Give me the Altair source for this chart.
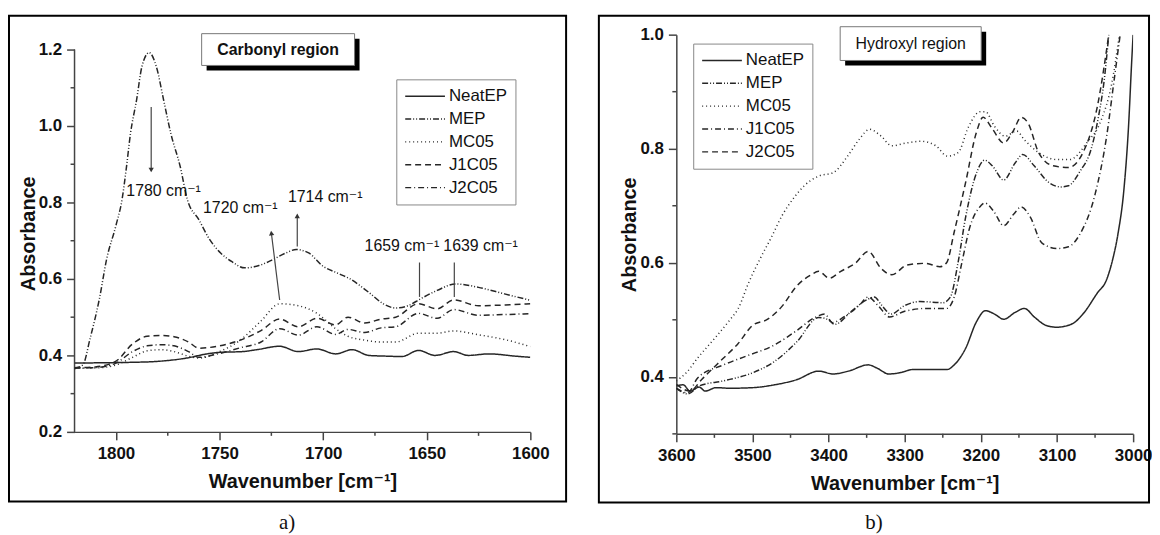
import altair as alt
import pandas as pd

FONT = "Liberation Sans, DejaVu Sans, sans-serif"
SERIES = ["NeatEP", "MEP", "MC05", "J1C05", "J2C05"]

# ---------------- Carbonyl region (panel a) ----------------
neat_c_w = [1820, 1803, 1792, 1781, 1766, 1756, 1750, 1739, 1732, 1721, 1712, 1703, 1694, 1686, 1678, 1669, 1662, 1654, 1646, 1637, 1630, 1620, 1607, 1600]
neat_c_a = [0.380, 0.381, 0.382, 0.384, 0.393, 0.404, 0.408, 0.410, 0.415, 0.424, 0.410, 0.417, 0.404, 0.415, 0.400, 0.398, 0.397, 0.413, 0.400, 0.410, 0.400, 0.404, 0.398, 0.395]

mep_c_w = [1820, 1816, 1812.5, 1808, 1804.5, 1800, 1797, 1795, 1793, 1790, 1787.5, 1784, 1780.5, 1777, 1773.5, 1769, 1765.5, 1760, 1755, 1749.5, 1744, 1738, 1731, 1724.5, 1718, 1713, 1707, 1700, 1693, 1687, 1678, 1671, 1665, 1659, 1653, 1645, 1636, 1625, 1612.5, 1600]
mep_c_a = [0.366, 0.375, 0.444, 0.548, 0.652, 0.740, 0.810, 0.890, 0.980, 1.070, 1.155, 1.192, 1.155, 1.068, 0.980, 0.894, 0.807, 0.755, 0.705, 0.668, 0.645, 0.629, 0.635, 0.650, 0.668, 0.677, 0.668, 0.633, 0.615, 0.600, 0.565, 0.535, 0.524, 0.530, 0.548, 0.570, 0.587, 0.578, 0.561, 0.544]

mix_c_w = [1820, 1810, 1800, 1792, 1785, 1778, 1772, 1765, 1760, 1750, 1740, 1730, 1721, 1712, 1703, 1694, 1688, 1680, 1672, 1665, 1654, 1645, 1637, 1625, 1612, 1600]
mc05_c_a = [0.366, 0.367, 0.375, 0.395, 0.412, 0.415, 0.410, 0.398, 0.393, 0.410, 0.440, 0.490, 0.535, 0.530, 0.510, 0.470, 0.450, 0.440, 0.435, 0.435, 0.458, 0.458, 0.464, 0.454, 0.441, 0.423]
j1c05_c_a = [0.368, 0.370, 0.385, 0.430, 0.450, 0.452, 0.449, 0.435, 0.419, 0.425, 0.440, 0.465, 0.495, 0.475, 0.497, 0.480, 0.500, 0.485, 0.495, 0.500, 0.535, 0.522, 0.545, 0.530, 0.532, 0.535]
j2c05_c_a = [0.367, 0.368, 0.380, 0.410, 0.425, 0.428, 0.425, 0.410, 0.395, 0.405, 0.420, 0.435, 0.470, 0.453, 0.475, 0.455, 0.468, 0.460, 0.472, 0.475, 0.510, 0.497, 0.520, 0.505, 0.507, 0.509]

# annotations (panel a)
arrow_w1 = [1783, 1721, 1712.5, 1653.5, 1636.7]
arrow_a1 = [1.05, 0.545, 0.685, 0.553, 0.553]
arrow_w2 = [1783, 1725, 1712.5, 1653.5, 1636.7]
arrow_a2 = [0.885, 0.72, 0.765, 0.643, 0.643]
head_w = [1783, 1725, 1712.5]
head_a = [0.885, 0.72, 0.765]
head_ang = [180, 353, 0]
lab_c_text = ["1780 cm\u207b\u00b9", "1720 cm\u207b\u00b9", "1714 cm\u207b\u00b9", "1659 cm\u207b\u00b9", "1639 cm\u207b\u00b9"]
lab_c_w = [1777, 1740, 1699, 1662, 1624]
lab_c_a = [0.830, 0.785, 0.815, 0.685, 0.685]

# ---------------- Hydroxyl region (panel b) ----------------
neat_h_w = [3600, 3591, 3582, 3570, 3562, 3548, 3529, 3500, 3471, 3442, 3413, 3394, 3374, 3348, 3336, 3321, 3307, 3288, 3264, 3244, 3235, 3220, 3206, 3194, 3182, 3170, 3155, 3143, 3129, 3114, 3100, 3080, 3066, 3047, 3035, 3027, 3020, 3012, 3006, 3002, 3000]
neat_h_a = [0.384, 0.386, 0.375, 0.382, 0.375, 0.381, 0.380, 0.381, 0.386, 0.395, 0.410, 0.405, 0.410, 0.421, 0.415, 0.405, 0.407, 0.413, 0.413, 0.413, 0.421, 0.450, 0.496, 0.516, 0.510, 0.501, 0.513, 0.520, 0.504, 0.490, 0.487, 0.493, 0.510, 0.547, 0.570, 0.605, 0.650, 0.730, 0.840, 0.950, 1.000]

mep_h_w = [3600, 3585, 3570, 3538, 3500, 3471, 3442, 3413, 3400, 3392, 3370, 3350, 3340, 3330, 3318, 3300, 3280, 3250, 3240, 3230, 3220, 3205, 3195, 3185, 3170, 3155, 3145, 3130, 3110, 3095, 3085, 3070, 3055, 3045, 3038, 3032]
mep_h_a = [0.380, 0.370, 0.384, 0.393, 0.407, 0.427, 0.461, 0.504, 0.500, 0.492, 0.515, 0.535, 0.540, 0.525, 0.510, 0.525, 0.532, 0.530, 0.540, 0.600, 0.680, 0.760, 0.780, 0.770, 0.745, 0.775, 0.790, 0.770, 0.740, 0.733, 0.735, 0.760, 0.800, 0.860, 0.920, 1.000]

mc05_h_w = [3600, 3587, 3572, 3548, 3529, 3519, 3505, 3490, 3475, 3461, 3445, 3432, 3413, 3394, 3375, 3360, 3346, 3331, 3317, 3298, 3278, 3259, 3244, 3230, 3216, 3201, 3194, 3182, 3168, 3153, 3143, 3124, 3100, 3083, 3061, 3042, 3028, 3018]
mc05_h_a = [0.393, 0.407, 0.433, 0.470, 0.501, 0.519, 0.565, 0.607, 0.645, 0.683, 0.715, 0.735, 0.752, 0.758, 0.787, 0.816, 0.834, 0.822, 0.805, 0.810, 0.813, 0.805, 0.787, 0.793, 0.839, 0.865, 0.865, 0.839, 0.822, 0.831, 0.816, 0.793, 0.781, 0.781, 0.810, 0.850, 0.915, 1.000]

j1c05_h_w = [3600, 3585, 3572, 3538, 3509, 3471, 3442, 3418, 3405, 3395, 3380, 3360, 3348, 3335, 3320, 3300, 3270, 3245, 3235, 3225, 3215, 3200, 3195, 3183, 3170, 3157, 3147, 3135, 3120, 3100, 3085, 3070, 3050, 3035, 3025, 3017]
j1c05_h_a = [0.380, 0.372, 0.398, 0.421, 0.436, 0.456, 0.481, 0.504, 0.510, 0.495, 0.505, 0.525, 0.540, 0.525, 0.505, 0.515, 0.520, 0.520, 0.540, 0.600, 0.660, 0.700, 0.705, 0.690, 0.665, 0.685, 0.698, 0.680, 0.635, 0.625, 0.628, 0.650, 0.720, 0.820, 0.920, 1.000]

j2c05_h_w = [3600, 3582, 3567, 3558, 3538, 3519, 3500, 3480, 3461, 3442, 3423, 3413, 3399, 3384, 3365, 3348, 3331, 3317, 3297, 3273, 3254, 3245, 3235, 3220, 3206, 3197, 3185, 3170, 3158, 3147, 3138, 3124, 3105, 3085, 3066, 3047, 3032]
j2c05_h_a = [0.387, 0.375, 0.395, 0.407, 0.433, 0.458, 0.490, 0.501, 0.524, 0.559, 0.579, 0.585, 0.573, 0.585, 0.599, 0.620, 0.590, 0.579, 0.596, 0.599, 0.593, 0.600, 0.654, 0.741, 0.828, 0.855, 0.835, 0.810, 0.830, 0.855, 0.845, 0.793, 0.770, 0.767, 0.793, 0.874, 1.000]

# tick values (major labelled, minor unlabelled)
x_major_c = [1600, 1650, 1700, 1750, 1800]
x_minor_c = [1625, 1675, 1725, 1775]
y_major_c = [0.2, 0.4, 0.6, 0.8, 1.0, 1.2]
y_minor_c = [0.3, 0.5, 0.7, 0.9, 1.1]
x_major_h = [3000, 3100, 3200, 3300, 3400, 3500, 3600]
x_minor_h = [3050, 3150, 3250, 3350, 3450, 3550]
y_major_h = [0.4, 0.6, 0.8, 1.0]
y_minor_h = [0.3, 0.5, 0.7, 0.9]

DASH_C = [[1, 0], [6, 2, 1, 2, 1, 2], [1, 3], [6, 4], [6, 3, 1, 3]]
DASH_H = [[1, 0], [6, 2, 1, 2, 1, 2], [1, 3], [6, 3, 1, 3], [6, 4]]

LINE = "#262626"
AXC = "#444444"


def long_df(items):
    rows = []
    for name, ws, As in items:
        for w, a in zip(ws, As):
            rows.append({"series": name, "w": w, "A": a})
    return pd.DataFrame(rows)


df_c = long_df([
    ("NeatEP", neat_c_w, neat_c_a),
    ("MEP", mep_c_w, mep_c_a),
    ("MC05", mix_c_w, mc05_c_a),
    ("J1C05", mix_c_w, j1c05_c_a),
    ("J2C05", mix_c_w, j2c05_c_a),
])
df_h = long_df([
    ("NeatEP", neat_h_w, neat_h_a),
    ("MEP", mep_h_w, mep_h_a),
    ("MC05", mc05_h_w, mc05_h_a),
    ("J1C05", j1c05_h_w, j1c05_h_a),
    ("J2C05", j2c05_h_w, j2c05_h_a),
])

one = pd.DataFrame({"k": [0]})

W_C, H_C = 459, 400
W_H, H_H = 460, 402
Y_TOP_C = 0.2 + H_C / 385.0

LBL = dict(labelFont=FONT, labelFontSize=17, labelFontWeight="bold", labelColor="#111",
           titleFont=FONT, titleFontSize=20, titleFontWeight="bold", titleColor="#111",
           domainColor=AXC, tickColor=AXC, domainWidth=1.5, tickWidth=1.5, grid=False,
           labelFlush=False, labelOverlap=False, tickSize=8)


def xaxis(vals):
    return alt.Axis(values=vals, title="Wavenumber [cm\u207b\u00b9]", format="d",
                    labelPadding=6, titlePadding=10, **LBL)


def yaxis(vals, domain):
    return alt.Axis(values=vals, title="Absorbance", format=".1f",
                    labelPadding=5, titlePadding=0, domain=domain, **LBL)


x_c = alt.X("w:Q", scale=alt.Scale(domain=[1600, 1820], reverse=True, nice=False, zero=False), axis=xaxis(x_major_c))
y_c = alt.Y("A:Q", scale=alt.Scale(domain=[0.2, Y_TOP_C], nice=False, zero=False), axis=yaxis(y_major_c, False))
x_h = alt.X("w:Q", scale=alt.Scale(domain=[3000, 3600], reverse=True, nice=False, zero=False), axis=xaxis(x_major_h))
y_h = alt.Y("A:Q", scale=alt.Scale(domain=[0.3, 1.0], nice=False, zero=False), axis=yaxis(y_major_h, True))


def minor_ticks(xvals, yvals, x, y, h):
    tx = alt.Chart(pd.DataFrame({"w": xvals})).mark_rule(color=AXC, strokeWidth=1.5).encode(
        x=x, y=alt.value(h), y2=alt.value(h + 4))
    ty = alt.Chart(pd.DataFrame({"A": yvals})).mark_rule(color=AXC, strokeWidth=1.5).encode(
        y=y, x=alt.value(0), x2=alt.value(-4))
    return [tx, ty]


def legend(x, y):
    return alt.Legend(
        title=None, orient="none", legendX=x, legendY=y, symbolType="stroke",
        symbolSize=1600, symbolStrokeWidth=1.4, symbolStrokeColor=LINE,
        labelFont=FONT, labelFontSize=17, labelColor="#111", labelOffset=3,
        strokeColor="#888", fillColor="white", padding=8, rowPadding=5,
        clipHeight=18, direction="vertical",
    )


def lines(df, x, y, dash, leg):
    return alt.Chart(df).mark_line(strokeWidth=1.5, color=LINE, interpolate="monotone", clip=True).encode(
        x=x, y=y,
        strokeDash=alt.StrokeDash("series:N", scale=alt.Scale(domain=SERIES, range=dash), legend=leg),
        detail="series:N",
    )


def frame(x1, x2, y1, y2):
    return alt.Chart(one).mark_rect(filled=False, stroke="black", strokeWidth=2).encode(
        x=alt.value(x1), x2=alt.value(x2), y=alt.value(y1), y2=alt.value(y2))


def label_box(x1, x2, y1, y2, text, weight):
    shadow = alt.Chart(one).mark_rect(fill="black").encode(
        x=alt.value(x1 + 5), x2=alt.value(x2 + 5), y=alt.value(y1 + 5), y2=alt.value(y2 + 5))
    box = alt.Chart(one).mark_rect(fill="white", stroke="#777", strokeWidth=1).encode(
        x=alt.value(x1), x2=alt.value(x2), y=alt.value(y1), y2=alt.value(y2))
    txt = alt.Chart(one).mark_text(font=FONT, fontSize=16, fontWeight=weight, color="#111").encode(
        x=alt.value((x1 + x2) / 2), y=alt.value((y1 + y2) / 2), text=alt.value(text))
    return [shadow, box, txt]


def panel_letter(x, y, t):
    return alt.Chart(one).mark_text(font="Liberation Serif, DejaVu Serif, serif", fontSize=21, color="#111").encode(
        x=alt.value(x), y=alt.value(y), text=alt.value(t))


# ---- panel a layers
ann_rules = pd.DataFrame({"w": arrow_w1, "A": arrow_a1, "w2": arrow_w2, "A2": arrow_a2})
ann_heads = pd.DataFrame({"w": head_w, "A": head_a, "ang": head_ang})
ann_text = pd.DataFrame({"w": lab_c_w, "A": lab_c_a, "t": lab_c_text})

rules_a = alt.Chart(ann_rules).mark_rule(color="#444", strokeWidth=1.2).encode(
    x=x_c, x2="w2:Q", y=y_c, y2="A2:Q")
heads_a = alt.Chart(ann_heads).mark_point(shape="triangle-up", filled=True, size=28, color="#333", opacity=1).encode(
    x=x_c, y=y_c, angle=alt.Angle("ang:Q", scale=None))
texts_a = alt.Chart(ann_text).mark_text(font=FONT, fontSize=16, color="#111").encode(
    x=x_c, y=y_c, text="t:N")
yline_a = alt.Chart(one).mark_rule(color=AXC, strokeWidth=1.5).encode(
    x=alt.value(0), y=alt.datum(0.2), y2=alt.datum(1.2))

left = alt.layer(
    frame(-66, 495, -19, 470),
    yline_a,
    *minor_ticks(x_minor_c, y_minor_c, x_c, y_c, H_C),
    lines(df_c, x_c, y_c, DASH_C, legend(324, 45)),
    rules_a, heads_a, texts_a,
    *label_box(128, 282, -1, 31, "Carbonyl region", "bold"),
    panel_letter(214, 492, "a)"),
).properties(width=W_C, height=H_C)

right = alt.layer(
    frame(-78, 476, -19, 471),
    *minor_ticks(x_minor_h, y_minor_h, x_h, y_h, H_H),
    lines(df_h, x_h, y_h, DASH_H, legend(17, 9)),
    *label_box(165, 307, -8, 26, "Hydroxyl region", "normal"),
    panel_letter(199, 492, "b)"),
).properties(width=W_H, height=H_H)

chart = alt.hconcat(left, right, spacing=147, bounds="flush").resolve_scale(
    x="independent", y="independent", strokeDash="independent"
).resolve_legend(strokeDash="independent").properties(
    padding={"left": 0, "top": 5, "right": 0, "bottom": 0}
).configure_view(stroke=None).configure_axis(**LBL)

chart.save("out.html", embed_options={"renderer": "svg", "actions": False})
